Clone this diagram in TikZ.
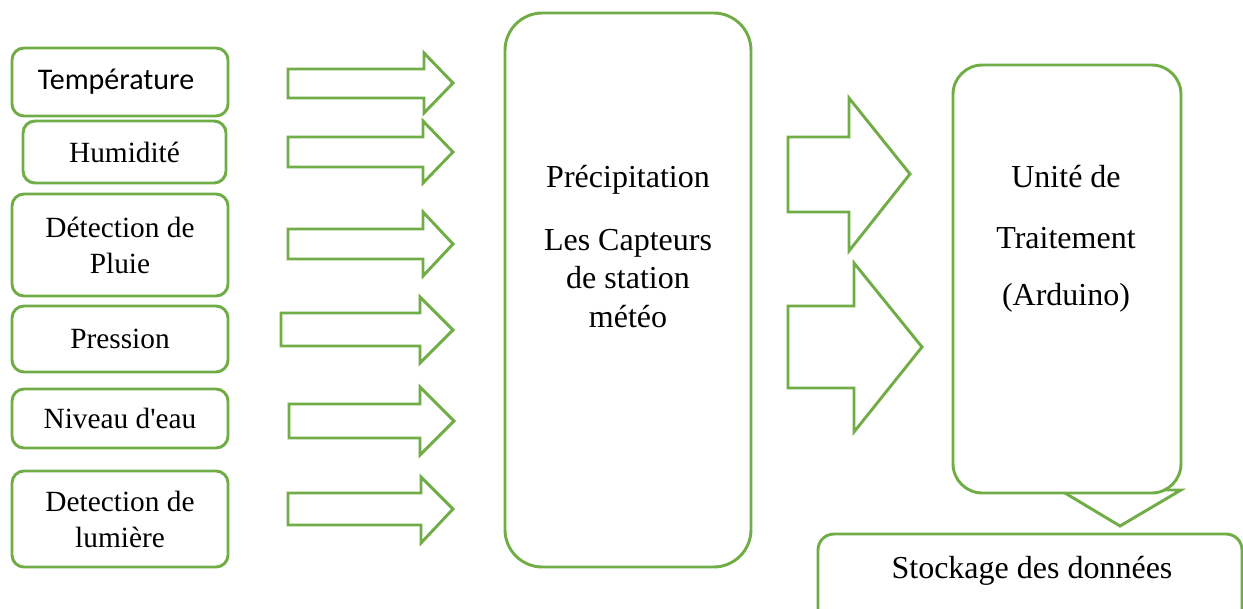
\documentclass[tikz,border=0pt]{standalone}
\usepackage{fontspec}
\setmainfont{Liberation Serif}
\newfontfamily\plainser{Liberation Serif}
\newfontfamily\calib{Carlito}
\definecolor{grn}{HTML}{70AD47}
\begin{document}
\begin{tikzpicture}[x=0.75pt,y=-0.75pt,
  box/.style={draw=grn,line width=2.2pt,fill=white,rounded corners=9pt,inner sep=0pt,align=center,font=\fontsize{22}{27}\selectfont},
  big/.style={box,rounded corners=28pt},
  blk/.style={draw=grn,line width=2.2pt,fill=white,line join=miter},
  txt/.style={inner sep=0pt,anchor=base,font=\fontsize{24}{29}\selectfont}]
\useasboundingbox (0,0) rectangle (1243,608);
\clip (0,0) rectangle (1243,608);
% left boxes
\node[box,minimum width=162pt,minimum height=51pt,font=\calib\fontsize{22.5}{27}\selectfont] (temp) at (120,82) {Température\hspace{6pt}};
\node[box,minimum width=152.25pt,minimum height=46.5pt] (hum) at (124.5,152) {Humidité};
\node[box,minimum width=162pt,minimum height=76.5pt] (pluie) at (120,245) {Détection de\\Pluie};
\node[box,minimum width=162pt,minimum height=49.5pt] (pres) at (120,339) {Pression};
\node[box,minimum width=162pt,minimum height=44.25pt] (eau) at (120,418.5) {Niveau d{\plainser '}eau};
\node[box,minimum width=162pt,minimum height=72pt] (lum) at (120,519) {Detection de\\lumière};
% small arrows
\draw[blk] (288,69) -- (424,69) -- (424,53) -- (453,83) -- (424,113) -- (424,98) -- (288,98) -- cycle;
\draw[blk] (288,137) -- (423,137) -- (423,121) -- (453,152) -- (423,183) -- (423,167) -- (288,167) -- cycle;
\draw[blk] (288,229) -- (423,229) -- (423,212) -- (453,244) -- (423,276) -- (423,259) -- (288,259) -- cycle;
\draw[blk] (281,313) -- (420,313) -- (420,297) -- (453,330) -- (420,363) -- (420,346) -- (281,346) -- cycle;
\draw[blk] (289,404) -- (420,404) -- (420,387) -- (454,421) -- (420,455) -- (420,438) -- (289,438) -- cycle;
\draw[blk] (288,493) -- (421,493) -- (421,477) -- (453,509) -- (421,543) -- (421,525) -- (288,525) -- cycle;
% central box
\node[big,minimum width=184.5pt,minimum height=415.5pt] (capt) at (628,290) {};
\node[txt] (prec) at (628,187) {Précipitation};
\node[txt] (c1) at (628,250) {Les Capteurs};
\node[txt] (c2) at (628,288) {de station};
\node[txt] (c3) at (628,327) {météo};
% big arrows
\draw[blk] (788,137) -- (849,137) -- (849,98) -- (910,174) -- (849,251) -- (849,212) -- (788,212) -- cycle;
\draw[blk] (788,306) -- (854,306) -- (854,263) -- (922,347) -- (854,432) -- (854,388) -- (788,388) -- cycle;
% down arrow (shaft hidden behind the box)
\draw[blk] (1095,420) -- (1145,420) -- (1145,490) -- (1181,490) -- (1120,526) -- (1060,490) -- (1095,490) -- cycle;
% processing unit
\node[big,rounded corners=22pt,minimum width=171pt,minimum height=321pt] (unit) at (1067,279) {};
\node[txt] (u1) at (1066,187) {Unité de};
\node[txt] (u2) at (1066,248) {Traitement};
\node[txt] (u3) at (1066,305) {(Arduino)};
% storage
\node[box,rounded corners=12pt,minimum width=318pt,minimum height=87pt] (stock) at (1030,592) {};
\node[txt] (s1) at (1032,578) {Stockage des données};
\end{tikzpicture}
\end{document}
